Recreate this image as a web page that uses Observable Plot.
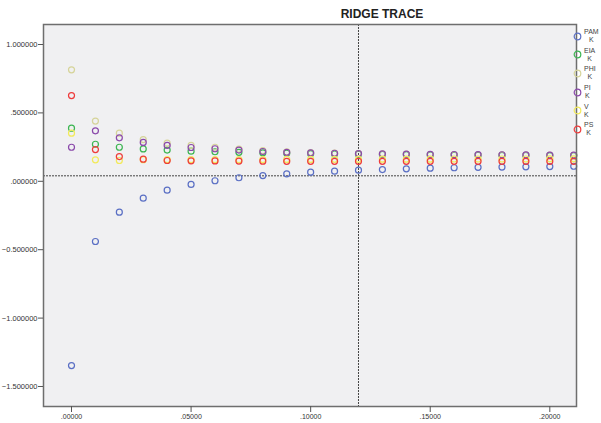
<!DOCTYPE html>
<html>
<head>
<meta charset="utf-8">
<script src="https://cdn.jsdelivr.net/npm/d3@7"></script>
<script src="https://cdn.jsdelivr.net/npm/@observablehq/plot@0.6"></script>
<style>
  body { margin: 0; background: white; }
  #wrap { position: relative; width: 601px; height: 423px; overflow: hidden; font-family: "Liberation Sans", Arial, sans-serif; }
  #chart { position: absolute; left: 0; top: 0; }
  #title { position: absolute; left: 322px; width: 120px; top: 7px; text-align: center; font-weight: bold; font-size: 12px; color: #222; }
  #legend { position: absolute; left: 573px; top: 27px; }
  .item { display: flex; align-items: center; height: 18.6px; }
  .item svg { flex: none; }
  .lab { display: inline-block; text-align: center; font-size: 7px; line-height: 8px; color: #444; margin-left: 2px; }
</style>
</head>
<body>
<div id="wrap">
  <div id="chart"></div>
  <div id="title">RIDGE TRACE</div>
  <div id="legend"></div>
</div>
<script>
// ridge parameter k
const kValues = [0, 0.01, 0.02, 0.03, 0.04, 0.05, 0.06, 0.07, 0.08, 0.09, 0.10, 0.11,
                 0.12, 0.13, 0.14, 0.15, 0.16, 0.17, 0.18, 0.19, 0.20, 0.21];
const seriesNames = ["PAM", "EIA", "PHI", "PI", "V", "PS"];
const PAM = [-1.347, -0.44, -0.226, -0.123, -0.065, -0.023, 0.004, 0.026, 0.042, 0.055, 0.067, 0.074,
             0.081, 0.086, 0.091, 0.096, 0.099, 0.102, 0.104, 0.106, 0.108, 0.110];
const EIA = [0.388, 0.271, 0.249, 0.237, 0.228, 0.220, 0.216, 0.212, 0.208, 0.205, 0.202, 0.200,
             0.198, 0.196, 0.195, 0.193, 0.192, 0.191, 0.190, 0.189, 0.188, 0.187];
const PHI = [0.815, 0.440, 0.352, 0.305, 0.279, 0.262, 0.249, 0.235, 0.224, 0.215, 0.210, 0.206,
             0.203, 0.200, 0.198, 0.196, 0.195, 0.194, 0.193, 0.192, 0.191, 0.190];
const PI  = [0.249, 0.369, 0.318, 0.284, 0.262, 0.247, 0.238, 0.228, 0.218, 0.212, 0.208, 0.205,
             0.203, 0.201, 0.199, 0.197, 0.196, 0.195, 0.194, 0.193, 0.192, 0.191];
const V   = [0.352, 0.157, 0.152, 0.158, 0.158, 0.158, 0.158, 0.158, 0.159, 0.160, 0.160, 0.161,
             0.161, 0.162, 0.162, 0.162, 0.163, 0.163, 0.163, 0.163, 0.164, 0.164];
const PS  = [0.627, 0.232, 0.181, 0.162, 0.152, 0.150, 0.149, 0.148, 0.147, 0.146, 0.146, 0.146,
             0.146, 0.146, 0.146, 0.146, 0.146, 0.146, 0.146, 0.146, 0.146, 0.146];
const seriesColors = ["#5a6fc4", "#3cb552", "#d6d49a", "#8a48aa", "#f2ea5a", "#ee3b3b"];
const xTicks = [0, 0.05, 0.10, 0.15, 0.20];
const yTicks = [1.0, 0.5, 0.0, -0.5, -1.0, -1.5];
const refK = [0.12];
const refY = [0.04];

const seriesValues = [PAM, EIA, PHI, PI, V, PS];
const data = seriesNames.flatMap((s, i) => kValues.map((k, j) => ({k, v: seriesValues[i][j], s})));

const fmtX = d => d3.format(".5f")(d).replace(/^(-?)0\./, "$1.");
const fmtY = d => d3.format(".6f")(Math.abs(d) < 1e-12 ? 0 : d).replace(/^(-?)0\./, "$1.");

const chart = Plot.plot({
  width: 601, height: 423,
  marginLeft: 43, marginRight: 25, marginTop: 24, marginBottom: 17,
  style: {background: "transparent", fontFamily: "Liberation Sans, Arial, sans-serif", fontSize: "7.5px", color: "#333"},
  x: {domain: [-0.01171, 0.21116], label: null},
  y: {domain: [-1.6462, 1.1462], label: null},
  color: {domain: seriesNames, range: seriesColors},
  marks: [
    Plot.frame({fill: "#f0f0f2", stroke: null}),
    Plot.ruleY(refY, {stroke: "#444", strokeDasharray: "2,1", strokeWidth: 1}),
    Plot.ruleX(refK, {stroke: "#444", strokeDasharray: "2,1", strokeWidth: 1}),
    Plot.dot(data, {x: "k", y: "v", stroke: "s", r: 3, strokeWidth: 1.2, fill: "none"}),
    Plot.frame({stroke: "#6e6e6e", strokeWidth: 1.5}),
    Plot.axisX({ticks: xTicks, tickFormat: fmtX, tickSize: 6, tickPadding: 2, stroke: "#555", fontSize: "7px"}),
    Plot.axisY({ticks: yTicks, tickFormat: fmtY, tickSize: 5, tickPadding: 1, stroke: "#555"})
  ]
});
document.getElementById("chart").appendChild(chart);

const legend = document.getElementById("legend");
seriesNames.forEach((s, i) => {
  const item = document.createElement("div");
  item.className = "item";
  item.innerHTML = `<svg width="9" height="9"><circle cx="4.5" cy="4.5" r="3.3" fill="none" stroke="${seriesColors[i]}" stroke-width="1.2"/></svg><span class="lab">${s}<br>K</span>`;
  legend.appendChild(item);
});
</script>
</body>
</html>
